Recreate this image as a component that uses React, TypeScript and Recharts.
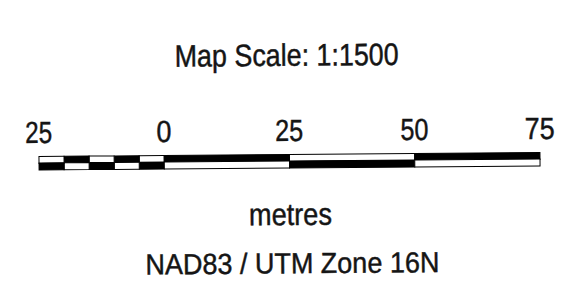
import React from 'react';
import { BarChart, Bar, XAxis, YAxis, Cell } from 'recharts';

// Scale bar definition (metres), stacked outward from 0
const segmentLengths = [-5, -5, -5, -5, -5, 25, 25, 25];
// colour of the upper half of each segment (lower half is the inverse)
const upperFills = ['#ffffff', '#000000', '#ffffff', '#000000', '#ffffff', '#000000', '#ffffff', '#000000'];
const rows = ['upper', 'lower'];
const tickValues = [-25, 0, 25, 50, 75];
const tickLabels = ['25', '0', '25', '50', '75'];
const tickWidths = [27, 15, 28, 28, 30];
const titleText = 'Map Scale: 1:1500';
const unitText = 'metres';
const projectionText = 'NAD83 / UTM Zone 16N';

const FONT = '"Liberation Sans", Arial, sans-serif';
const INK = '#151515';
const textStyle = { stroke: INK, strokeWidth: 0.45 };

const data = rows.map((row) => {
  const o: Record<string, any> = { row };
  segmentLengths.forEach((v, i) => {
    o['s' + i] = v;
  });
  return o;
});

const invert = (c: string) => (c === '#000000' ? '#ffffff' : '#000000');

function TickLabel(props: any) {
  const { x, y, payload } = props;
  const i = tickValues.indexOf(payload.value);
  return (
    <text
      x={x}
      y={y}
      dy={-5.5}
      textAnchor="middle"
      fontFamily={FONT}
      fontSize={30.5}
      fill={INK}
      style={textStyle}
      textLength={tickWidths[i]}
      lengthAdjust="spacingAndGlyphs"
    >
      {tickLabels[i]}
    </text>
  );
}

export default function App() {
  return (
    <div
      style={{
        position: 'absolute',
        left: 0,
        top: 0,
        width: 580,
        height: 299,
        background: '#fff',
        transform: 'rotate(-0.46deg)',
        transformOrigin: '290px 160px',
      }}
    >
      <BarChart
        width={580}
        height={299}
        data={data}
        layout="vertical"
        stackOffset="sign"
        barCategoryGap={0}
        barGap={0}
        margin={{ top: 124.5, right: 40, bottom: 131.5, left: 39 }}
      >
        <XAxis
          type="number"
          domain={[-25, 75]}
          ticks={tickValues}
          interval={0}
          orientation="top"
          height={30}
          tickLine={false}
          axisLine={false}
          tickSize={6}
          tickMargin={2}
          tick={<TickLabel />}
        />
        <YAxis type="category" dataKey="row" hide />
        {segmentLengths.map((_, i) => (
          <Bar
            key={i}
            dataKey={'s' + i}
            stackId="scale"
            stroke="#000"
            strokeWidth={1}
            isAnimationActive={false}
          >
            {rows.map((r, ri) => (
              <Cell key={r} fill={ri === 0 ? upperFills[i] : invert(upperFills[i])} />
            ))}
          </Bar>
        ))}
        <text
          x={287.5}
          y={65.8}
          textAnchor="middle"
          fontFamily={FONT}
          fontSize={31}
          fill={INK}
          style={textStyle}
          textLength={224}
          lengthAdjust="spacingAndGlyphs"
        >
          {titleText}
        </text>
        <text
          x={290}
          y={225}
          textAnchor="middle"
          fontFamily={FONT}
          fontSize={31}
          fill={INK}
          style={textStyle}
          textLength={83}
          lengthAdjust="spacingAndGlyphs"
        >
          {unitText}
        </text>
        <text
          x={291.5}
          y={273.3}
          textAnchor="middle"
          fontFamily={FONT}
          fontSize={29}
          fill={INK}
          style={textStyle}
          textLength={294}
          lengthAdjust="spacingAndGlyphs"
        >
          {projectionText}
        </text>
      </BarChart>
    </div>
  );
}
